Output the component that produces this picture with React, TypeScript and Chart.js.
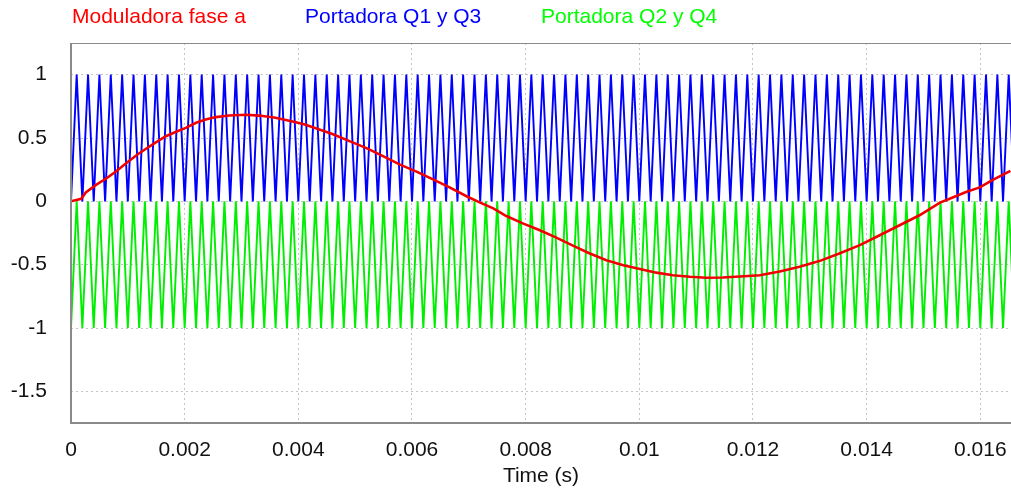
import React, { useEffect, useRef } from "react";
import { Chart, registerables } from "chart.js";

Chart.register(...registerables);

// ---- Data ----
const seriesLabels = ["Moduladora fase a", "Portadora Q1 y Q3", "Portadora Q2 y Q4"];
const seriesColors = ["#f00000", "#0000ff", "#00ee00"];
const legendColors = ["#ff0000", "#0000ff", "#00ff00"];

const modTimes = [
  0, 0.00018, 0.00026, 0.00044, 0.00062, 0.00079, 0.00097, 0.00117, 0.00132, 0.0015,
  0.00167, 0.00185, 0.00202, 0.0022, 0.00237, 0.00255, 0.00278, 0.00308, 0.00331, 0.0036,
  0.0039, 0.0041, 0.00432, 0.00461, 0.0049, 0.0052, 0.00549, 0.00579, 0.00608, 0.00637,
  0.00667, 0.00696, 0.0072, 0.00743, 0.00766, 0.00796, 0.00825, 0.00854, 0.00884, 0.00913,
  0.00942, 0.00972, 0.01001, 0.0103, 0.01059, 0.01089, 0.01118, 0.01147, 0.01177, 0.01212,
  0.01247, 0.01282, 0.01318, 0.01353, 0.01388, 0.01423, 0.01458, 0.01493, 0.01529, 0.01546,
  0.01576, 0.01599, 0.01622, 0.01653,
];
const modValues = [
  0, 0.02, 0.07, 0.13, 0.18, 0.235, 0.3, 0.37, 0.415, 0.467,
  0.514, 0.549, 0.58, 0.62, 0.646, 0.665, 0.678, 0.683, 0.677, 0.66,
  0.63, 0.608, 0.575, 0.53, 0.475, 0.42, 0.357, 0.29, 0.235, 0.173,
  0.108, 0.04, -0.01, -0.055, -0.116, -0.176, -0.228, -0.286, -0.352, -0.412,
  -0.465, -0.504, -0.535, -0.563, -0.583, -0.596, -0.603, -0.601, -0.593, -0.583,
  -0.554, -0.517, -0.47, -0.41, -0.346, -0.268, -0.189, -0.11, -0.01, 0.02,
  0.075, 0.11, 0.17, 0.24,
];

const carrierTimes = [
  0, 0.0001, 0.0002, 0.0003, 0.0004, 0.0005, 0.0006, 0.0007, 0.0008, 0.0009,
  0.001, 0.0011, 0.0012, 0.0013, 0.0014, 0.0015, 0.0016, 0.0017, 0.0018, 0.0019,
  0.002, 0.0021, 0.0022, 0.0023, 0.0024, 0.0025, 0.0026, 0.0027, 0.0028, 0.0029,
  0.003, 0.0031, 0.0032, 0.0033, 0.0034, 0.0035, 0.0036, 0.0037, 0.0038, 0.0039,
  0.004, 0.0041, 0.0042, 0.0043, 0.0044, 0.0045, 0.0046, 0.0047, 0.0048, 0.0049,
  0.005, 0.0051, 0.0052, 0.0053, 0.0054, 0.0055, 0.0056, 0.0057, 0.0058, 0.0059,
  0.006, 0.0061, 0.0062, 0.0063, 0.0064, 0.0065, 0.0066, 0.0067, 0.0068, 0.0069,
  0.007, 0.0071, 0.0072, 0.0073, 0.0074, 0.0075, 0.0076, 0.0077, 0.0078, 0.0079,
  0.008, 0.0081, 0.0082, 0.0083, 0.0084, 0.0085, 0.0086, 0.0087, 0.0088, 0.0089,
  0.009, 0.0091, 0.0092, 0.0093, 0.0094, 0.0095, 0.0096, 0.0097, 0.0098, 0.0099,
  0.01, 0.0101, 0.0102, 0.0103, 0.0104, 0.0105, 0.0106, 0.0107, 0.0108, 0.0109,
  0.011, 0.0111, 0.0112, 0.0113, 0.0114, 0.0115, 0.0116, 0.0117, 0.0118, 0.0119,
  0.012, 0.0121, 0.0122, 0.0123, 0.0124, 0.0125, 0.0126, 0.0127, 0.0128, 0.0129,
  0.013, 0.0131, 0.0132, 0.0133, 0.0134, 0.0135, 0.0136, 0.0137, 0.0138, 0.0139,
  0.014, 0.0141, 0.0142, 0.0143, 0.0144, 0.0145, 0.0146, 0.0147, 0.0148, 0.0149,
  0.015, 0.0151, 0.0152, 0.0153, 0.0154, 0.0155, 0.0156, 0.0157, 0.0158, 0.0159,
  0.016, 0.0161, 0.0162, 0.0163, 0.0164, 0.0165, 0.0166,
];
const blueCarrier = [
  0, 1, 0, 1, 0, 1, 0, 1, 0, 1,
  0, 1, 0, 1, 0, 1, 0, 1, 0, 1,
  0, 1, 0, 1, 0, 1, 0, 1, 0, 1,
  0, 1, 0, 1, 0, 1, 0, 1, 0, 1,
  0, 1, 0, 1, 0, 1, 0, 1, 0, 1,
  0, 1, 0, 1, 0, 1, 0, 1, 0, 1,
  0, 1, 0, 1, 0, 1, 0, 1, 0, 1,
  0, 1, 0, 1, 0, 1, 0, 1, 0, 1,
  0, 1, 0, 1, 0, 1, 0, 1, 0, 1,
  0, 1, 0, 1, 0, 1, 0, 1, 0, 1,
  0, 1, 0, 1, 0, 1, 0, 1, 0, 1,
  0, 1, 0, 1, 0, 1, 0, 1, 0, 1,
  0, 1, 0, 1, 0, 1, 0, 1, 0, 1,
  0, 1, 0, 1, 0, 1, 0, 1, 0, 1,
  0, 1, 0, 1, 0, 1, 0, 1, 0, 1,
  0, 1, 0, 1, 0, 1, 0, 1, 0, 1,
  0, 1, 0, 1, 0, 1, 0,
];
const greenCarrier = [
  -1, 0, -1, 0, -1, 0, -1, 0, -1, 0,
  -1, 0, -1, 0, -1, 0, -1, 0, -1, 0,
  -1, 0, -1, 0, -1, 0, -1, 0, -1, 0,
  -1, 0, -1, 0, -1, 0, -1, 0, -1, 0,
  -1, 0, -1, 0, -1, 0, -1, 0, -1, 0,
  -1, 0, -1, 0, -1, 0, -1, 0, -1, 0,
  -1, 0, -1, 0, -1, 0, -1, 0, -1, 0,
  -1, 0, -1, 0, -1, 0, -1, 0, -1, 0,
  -1, 0, -1, 0, -1, 0, -1, 0, -1, 0,
  -1, 0, -1, 0, -1, 0, -1, 0, -1, 0,
  -1, 0, -1, 0, -1, 0, -1, 0, -1, 0,
  -1, 0, -1, 0, -1, 0, -1, 0, -1, 0,
  -1, 0, -1, 0, -1, 0, -1, 0, -1, 0,
  -1, 0, -1, 0, -1, 0, -1, 0, -1, 0,
  -1, 0, -1, 0, -1, 0, -1, 0, -1, 0,
  -1, 0, -1, 0, -1, 0, -1, 0, -1, 0,
  -1, 0, -1, 0, -1, 0, -1,
];

const xTicks = [0, 0.002, 0.004, 0.006, 0.008, 0.01, 0.012, 0.014, 0.016];
const yTicks = [-1.5, -1, -0.5, 0, 0.5, 1];
const xMin = 0;
const xMax = 0.01654;
const yMin = -1.75;
const yMax = 1.25;
const xTitle = "Time (s)";

const FONT = "'Liberation Sans', Arial, sans-serif";

export default function App() {
  const ref = useRef<HTMLCanvasElement>(null);

  useEffect(() => {
    document.body.style.margin = "0";
    const canvas = ref.current;
    if (!canvas) return;

    const toPts = (xs: number[], ys: number[]) => xs.map((x, i) => ({ x, y: ys[i] }));

    const framePlugin = {
      id: "frameAndLegend",
      afterDraw(chart: any) {
        const c = chart.ctx as CanvasRenderingContext2D;
        const a = chart.chartArea;
        c.save();
        c.strokeStyle = "#8a8a8a";
        c.lineWidth = 2;
        c.beginPath();
        c.moveTo(a.left, a.top);
        c.lineTo(a.left, a.bottom);
        c.lineTo(a.right, a.bottom);
        c.stroke();
        c.lineWidth = 1;
        c.beginPath();
        c.moveTo(a.left, a.top + 0.5);
        c.lineTo(a.right, a.top + 0.5);
        c.stroke();

        c.font = `21px ${FONT}`;
        c.textBaseline = "middle";
        c.textAlign = "left";
        const xs = [72, 305, 541];
        seriesLabels.forEach((lab, i) => {
          c.fillStyle = legendColors[i];
          c.fillText(lab, xs[i], 17);
        });
        c.restore();
      },
    };

    const chart = new Chart(canvas, {
      type: "line",
      data: {
        datasets: [
          {
            label: seriesLabels[0],
            data: toPts(modTimes, modValues),
            borderColor: seriesColors[0],
            borderWidth: 2.6,
            pointRadius: 0,
            tension: 0,
          },
          {
            label: seriesLabels[1],
            data: toPts(carrierTimes, blueCarrier),
            borderColor: seriesColors[1],
            borderWidth: 1.9,
            pointRadius: 0,
            tension: 0,
          },
          {
            label: seriesLabels[2],
            data: toPts(carrierTimes, greenCarrier),
            borderColor: seriesColors[2],
            borderWidth: 1.9,
            pointRadius: 0,
            tension: 0,
          },
        ],
      },
      options: {
        animation: false,
        responsive: false,
        devicePixelRatio: 1,
        parsing: false as any,
        layout: { padding: { top: 43, left: 0, right: 0, bottom: 0 } },
        plugins: {
          legend: { display: false },
          tooltip: { enabled: false },
        },
        scales: {
          x: {
            type: "linear",
            min: xMin,
            max: xMax,
            afterBuildTicks: (s: any) => {
              s.ticks = xTicks.map((v) => ({ value: v }));
            },
            afterFit: (s: any) => {
              s.height = 66;
              s.paddingLeft = 0;
              s.paddingRight = 0;
            },
            ticks: {
              autoSkip: false,
              maxRotation: 0,
              padding: 15,
              color: "#111",
              font: { family: FONT, size: 21 },
              callback: (v: any) => String(v),
            },
            grid: { color: "#c4c4c4", lineWidth: 1, drawTicks: false },
            border: { display: false, dash: [2, 3] },
            title: {
              display: true,
              text: xTitle,
              color: "#111",
              font: { family: FONT, size: 21 },
              padding: { top: 0, bottom: 0 },
            },
          },
          y: {
            type: "linear",
            min: yMin,
            max: yMax,
            afterBuildTicks: (s: any) => {
              s.ticks = yTicks.map((v) => ({ value: v }));
            },
            afterFit: (s: any) => {
              s.width = 71;
              s.paddingTop = 0;
              s.paddingBottom = 0;
            },
            ticks: {
              padding: 24,
              color: "#111",
              font: { family: FONT, size: 21 },
              callback: (v: any) => String(v),
            },
            grid: { color: "#c4c4c4", lineWidth: 1, drawTicks: false },
            border: { display: false, dash: [2, 3] },
          },
        },
      },
      plugins: [framePlugin],
    } as any);

    return () => chart.destroy();
  }, []);

  return (
    <canvas
      ref={ref}
      width={1011}
      height={489}
      style={{ display: "block", width: 1011, height: 489 }}
    />
  );
}
